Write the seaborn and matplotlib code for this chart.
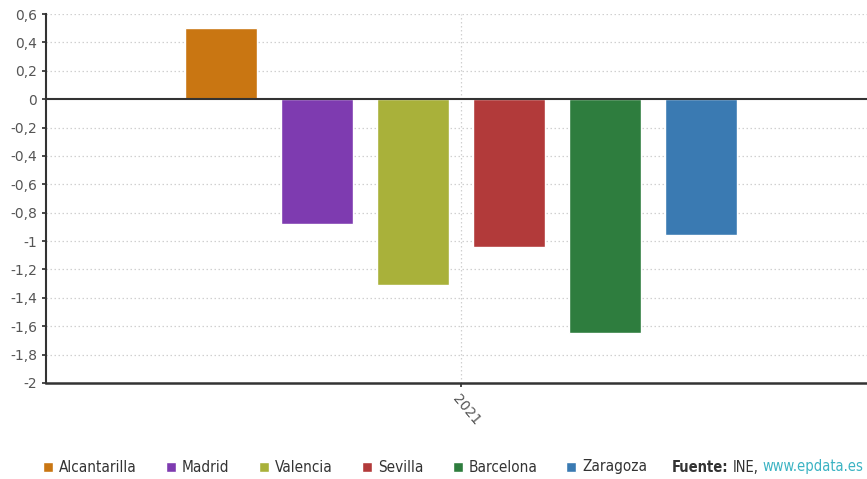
import pandas as pd
import matplotlib.pyplot as plt
import seaborn as sns
from matplotlib.patches import Rectangle

cities = ['Alcantarilla', 'Madrid', 'Valencia', 'Sevilla', 'Barcelona', 'Zaragoza']
values = [0.50, -0.88, -1.31, -1.04, -1.65, -0.96]
years = ['2021'] * len(cities)
colors = ['#C97612', '#7E3BB0', '#A9B13A', '#B23A3A', '#2E7D3E', '#3A7AB2']
yticks = [0.6, 0.4, 0.2, 0, -0.2, -0.4, -0.6, -0.8, -1, -1.2, -1.4, -1.6, -1.8, -2]

df = pd.DataFrame({'year': years, 'city': cities, 'value': values})

sns.set_theme(style="white")
plt.rcParams['font.family'] = ['DejaVu Sans']

W, H = 867, 479
fig = plt.figure(figsize=(W / 100, H / 100), dpi=100)
ax = fig.add_axes([46 / W, 96 / H, 1 - 46 / W, (383 - 14) / H])

sns.barplot(data=df, x='year', y='value', hue='city', palette=colors,
            width=0.8, gap=0.25, legend=False, ax=ax, saturation=1)

ax.set_ylim(-2, 0.6)
ax.set_xlim(-0.576, 0.564)
ax.set_yticks(yticks)
ax.set_yticklabels([('%g' % t).replace('.', ',') for t in yticks], fontsize=10, color='#555555')
ax.set_xticks([0])
ax.set_xticklabels(['2021'], rotation=-50, ha='left', rotation_mode='anchor',
                   fontsize=10, color='#555555')
ax.set_xlabel('')
ax.set_ylabel('')

for t in yticks:
    if t not in (0, -2):
        ax.axhline(t, color='#d0d0d0', lw=0.9, ls=(0, (1.2, 2)), zorder=0)
ax.axvline(0, color='#d0d0d0', lw=0.9, ls=(0, (1.2, 2)), zorder=0)
ax.axhline(0, color='#333333', lw=1.5, zorder=3)

for s in ['top', 'right']:
    ax.spines[s].set_visible(False)
ax.spines['left'].set_color('#333333')
ax.spines['left'].set_linewidth(1.5)
ax.spines['bottom'].set_color('#333333')
ax.spines['bottom'].set_linewidth(1.8)
ax.spines['bottom'].set_linestyle((0, (2, 1)))
ax.tick_params(axis='y', length=3, color='#333333', left=True)
ax.tick_params(axis='x', length=3, color='#333333', bottom=True)

# legend along the bottom, placed like the original
leg_font = dict(family='DejaVu Sans', stretch='condensed', fontsize=11)
leg_x = [43, 166, 259, 362, 453, 566]
ly = 1 - 467 / H
for x, c, n in zip(leg_x, colors, cities):
    fig.patches.append(Rectangle((x / W, ly - 5 / H), 10 / W, 10 / H,
                                 facecolor=c, transform=fig.transFigure))
    fig.text((x + 16) / W, ly, n, ha='left', va='center', color='#333333', **leg_font)

# source line, each piece placed after the previous one
renderer = fig.canvas.get_renderer()
src_font = dict(family='DejaVu Sans', stretch='condensed', fontsize=10.5)
x0 = 672
for txt, col, wt in [('Fuente:', '#333333', 'bold'), ('INE,', '#333333', 'normal'),
                     ('www.epdata.es', '#3bb3c3', 'normal')]:
    t = fig.text(x0 / W, ly, txt, ha='left', va='center', color=col, weight=wt, **src_font)
    x0 += t.get_window_extent(renderer).width + 4

fig.savefig('out.png', dpi=100)
